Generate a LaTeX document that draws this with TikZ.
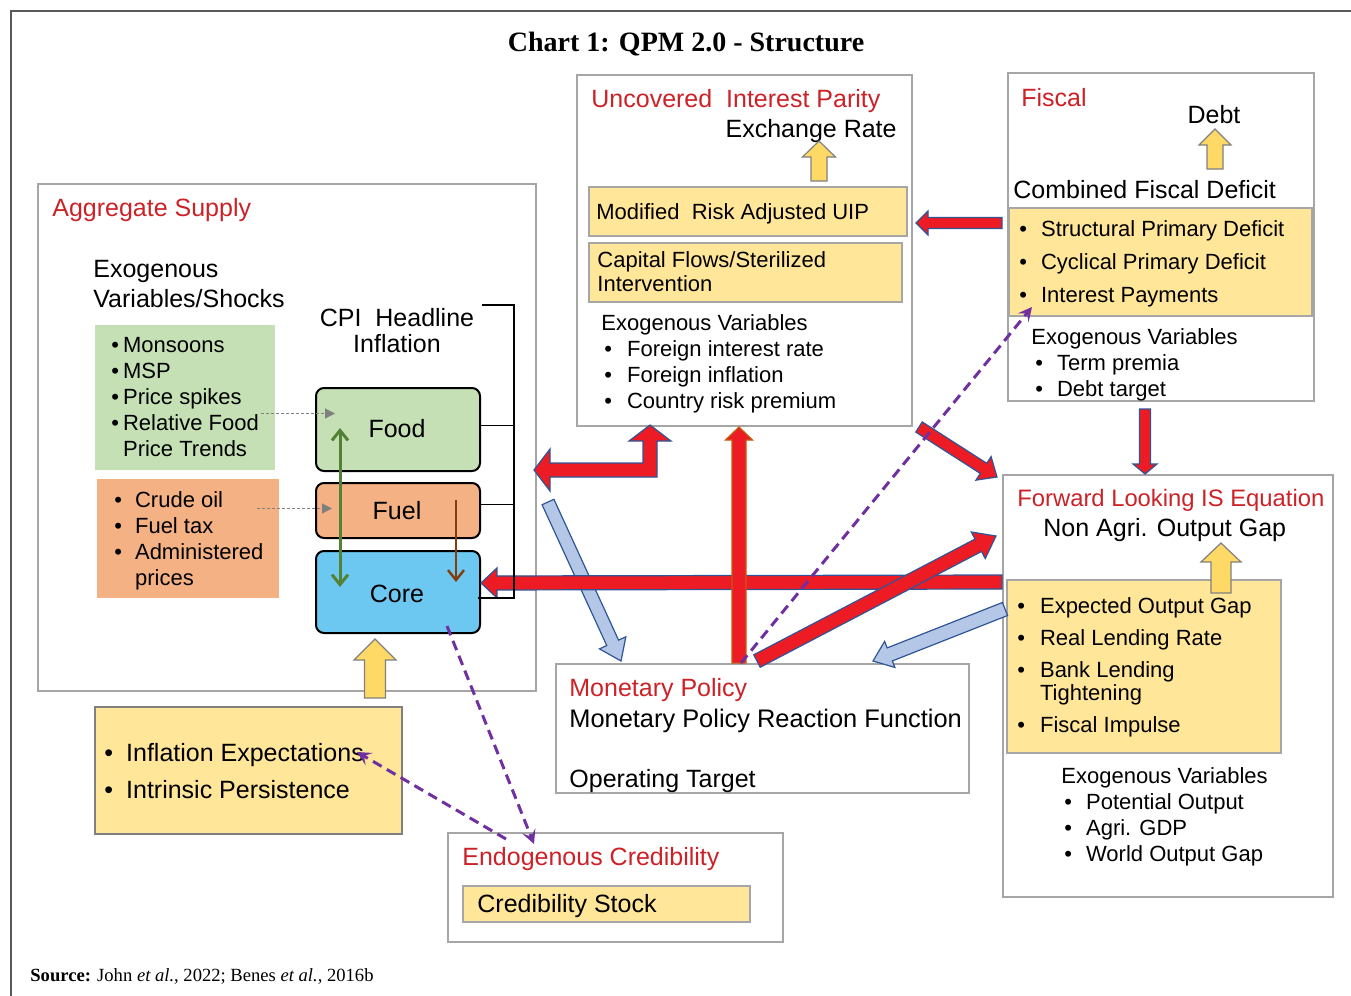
\documentclass[tikz,border=0pt]{standalone}
\usepackage{fontspec}
\setmainfont{Liberation Sans}
\newfontfamily\titlefont{Liberation Serif}
\usepackage{xcolor}
\usetikzlibrary{calc,fit,arrows.meta}

\definecolor{hdred}{RGB}{204,33,39}
\definecolor{boxgray}{RGB}{166,166,166}
\definecolor{paleyel}{RGB}{255,230,153}
\definecolor{foodgreen}{RGB}{197,224,180}
\definecolor{fuelorange}{RGB}{244,177,131}
\definecolor{coreblue}{RGB}{108,200,240}
\definecolor{arrred}{RGB}{237,28,36}
\definecolor{arrblue}{RGB}{47,85,151}
\definecolor{rustedge}{RGB}{197,90,17}
\definecolor{lightblue}{RGB}{180,199,231}
\definecolor{arryel}{RGB}{255,217,102}
\definecolor{mppurple}{RGB}{112,48,160}
\definecolor{darkgreen}{RGB}{84,130,53}
\definecolor{rustbrown}{RGB}{132,60,12}

\newcommand{\fsmall}{\fontsize{11}{13}\selectfont}
\newcommand{\flarge}{\fontsize{12.5}{15}\selectfont}

% block arrow: style, from, to, shaft half width, head half width, head length
\newcommand{\blockarrow}[6]{%
  \coordinate (bah) at ($(#3)!#6!(#2)$);
  \draw[#1] ($(#2)!#4!90:(#3)$) -- ($(bah)!#4!-90:(#2)$) -- ($(bah)!#5!-90:(#2)$) -- (#3)
    -- ($(bah)!#5!90:(#2)$) -- ($(bah)!#4!90:(#2)$) -- ($(#2)!#4!-90:(#3)$) -- cycle;
}

\tikzset{
  panel/.style={draw=boxgray, line width=1pt, inner sep=0pt},
  ylbox/.style={panel, fill=paleyel},
  cpibox/.style={draw=black, line width=1pt, rounded corners=4pt, inner sep=0pt},
  txt/.style={inner sep=0pt, anchor=base west, font=\fsmall},
  bigtxt/.style={txt, font=\flarge},
  hdtxt/.style={bigtxt, text=hdred},
  redarrow/.style={fill=arrred, draw=arrblue, line width=0.6pt},
  bluearrow/.style={fill=lightblue, draw=arrblue, line width=0.6pt},
  yelarrow/.style={fill=arryel, draw=gray, line width=0.6pt},
  credlink/.style={draw=mppurple, line width=1.5pt, dash pattern=on 5pt off 3pt,
    -{Stealth[length=7pt,width=7pt,inset=3pt]}},
  shocklink/.style={draw=gray, line width=0.6pt, dash pattern=on 1.5pt off 1pt,
    -{Triangle[length=5pt,width=5pt]}}
}

\begin{document}
\begin{tikzpicture}[x=0.5pt, y=-0.5pt]
\useasboundingbox (0,0) rectangle (1351,996);

% frame and title
\draw[line width=1pt, black!65] (11,996) -- (11,11) -- (1351,11);
\node[inner sep=0pt, anchor=base, font={\titlefont\bfseries\fontsize{14}{16}\selectfont}] (title) at (686,51) {Chart 1: QPM 2.0 - Structure};

% panels
\node[panel, fit={(38,184) (536,691)}] (supply) {};
\node[panel, fit={(577,75) (912,426)}] (uip) {};
\node[panel, fit={(1008,73) (1314,401)}] (fiscal) {};
\node[panel, fit={(1003,475) (1333,897)}] (fwdis) {};
\node[panel, fit={(556,664) (969,793)}] (monpol) {};
\node[panel, fit={(448,833) (783,942)}] (credib) {};

% inner boxes
\node[ylbox, fit={(589,187) (907,236)}] (riskuip) {};
\node[ylbox, fit={(589,243) (902,302)}] (capflow) {};
\node[ylbox, fit={(1009,208) (1312,316)}] (deficit) {};
\node[ylbox, fit={(1007,580) (1281,753)}] (gapdrv) {};
\node[ylbox, fit={(463,886) (750,922)}] (credstock) {};
\node[ylbox, draw=gray, fit={(95,707) (402,834)}] (expect) {};
\node[fill=foodgreen, inner sep=0pt, fit={(95,325) (275,470)}] (foodshk) {};
\node[fill=fuelorange, inner sep=0pt, fit={(97,479) (279,598)}] (fuelshk) {};
\node[cpibox, fill=foodgreen, fit={(316,388) (480,471)}] (food) {};
\node[cpibox, fill=fuelorange, fit={(316,483) (480,538)}] (fuel) {};
\node[cpibox, fill=coreblue, fit={(316,551) (480,633)}] (core) {};
\node[bigtxt, anchor=base] (foodlbl) at (397,437) {Food};
\node[bigtxt, anchor=base] (fuellbl) at (397,519) {Fuel};
\node[bigtxt, anchor=base] (corelbl) at (397,602) {Core};

% aggregate supply texts
\node[hdtxt] (astitle) at (52,216) {Aggregate Supply};
\node[bigtxt] (exoshk) at (93,277) {\begin{tabular}[t]{@{}l@{}}Exogenous\\Variables/Shocks\end{tabular}};
\node[txt] (foodlist) at (111,352) {\begin{tabular}[t]{@{}l@{\hspace{2pt}}l@{}}
  \textbullet & Monsoons\\ \textbullet & MSP\\ \textbullet & Price spikes\\
  \textbullet & Relative Food\\ & Price Trends\end{tabular}};
\node[txt] (fuellist) at (114,507) {\begin{tabular}[t]{@{}l@{\hspace{6.5pt}}l@{}}
  \textbullet & Crude oil\\ \textbullet & Fuel tax\\ \textbullet & Administered\\ & prices\end{tabular}};
\node[bigtxt, anchor=base, font=\fontsize{12.5}{13}\selectfont] (cpilbl) at (397,326) {\begin{tabular}[t]{@{}c@{}}CPI\ \ Headline\\Inflation\end{tabular}};
\node[bigtxt] (expectlist) at (104,761) {\begin{tabular}[t]{@{}l@{\hspace{6.5pt}}l@{}}
  \textbullet & Inflation Expectations\\[3.5pt] \textbullet & Intrinsic Persistence\end{tabular}};

% UIP texts
\node[hdtxt] (uiptitle) at (591,107) {Uncovered\ \ Interest Parity};
\node[bigtxt, anchor=base east] (xrate) at (897,137) {Exchange Rate};
\node[txt] (risklbl) at (596,219) {Modified\ \ Risk Adjusted UIP};
\node[txt, font=\fontsize{11}{12}\selectfont] (caplbl) at (597,267) {\begin{tabular}[t]{@{}l@{}}Capital Flows/Sterilized\\Intervention\end{tabular}};
\node[txt] (uipexo) at (601,330) {\begin{tabular}[t]{@{}l@{\hspace{7.5pt}}l@{}}
  \multicolumn{2}{@{}l@{}}{Exogenous Variables}\\
  \hspace{1.5pt}\textbullet & Foreign interest rate\\
  \hspace{1.5pt}\textbullet & Foreign inflation\\
  \hspace{1.5pt}\textbullet & Country risk premium\end{tabular}};

% fiscal texts
\node[hdtxt] (fistitle) at (1021,106) {Fiscal};
\node[bigtxt, anchor=base] (debt) at (1214,123) {Debt};
\node[bigtxt] (cfd) at (1013,198) {Combined Fiscal Deficit};
\node[txt] (deflist) at (1019,236) {\begin{tabular}[t]{@{}l@{\hspace{7pt}}l@{}}
  \textbullet & Structural Primary Deficit\\[3.5pt]
  \textbullet & Cyclical Primary Deficit\\[3.5pt]
  \textbullet & Interest Payments\end{tabular}};
\node[txt] (fisexo) at (1031,344) {\begin{tabular}[t]{@{}l@{\hspace{7pt}}l@{}}
  \multicolumn{2}{@{}l@{}}{Exogenous Variables}\\
  \hspace{2pt}\textbullet & Term premia\\
  \hspace{2pt}\textbullet & Debt target\end{tabular}};

% IS texts
\node[hdtxt, font=\fontsize{11.9}{14}\selectfont] (istitle) at (1017,506) {Forward Looking IS Equation};
\node[bigtxt] (nagap) at (1043,536) {Non Agri. Output Gap};
\node[txt, font=\fontsize{11}{11.5}\selectfont] (gaplist) at (1017,613) {\begin{tabular}[t]{@{}l@{\hspace{7.5pt}}l@{}}
  \textbullet & Expected Output Gap\\[4.5pt]
  \textbullet & Real Lending Rate\\[4.5pt]
  \textbullet & Bank Lending\\ & Tightening\\[4.5pt]
  \textbullet & Fiscal Impulse\end{tabular}};
\node[txt] (isexo) at (1061,783) {\begin{tabular}[t]{@{}l@{\hspace{7pt}}l@{}}
  \multicolumn{2}{@{}l@{}}{Exogenous Variables}\\
  \hspace{1.5pt}\textbullet & Potential Output\\
  \hspace{1.5pt}\textbullet & Agri. GDP\\
  \hspace{1.5pt}\textbullet & World Output Gap\end{tabular}};

% monetary policy and credibility texts
\node[hdtxt] (mptitle) at (569,696) {Monetary Policy};
\node[bigtxt, font=\fontsize{12.7}{15}\selectfont] (mprf) at (569,727) {Monetary Policy Reaction Function};
\node[bigtxt] (optgt) at (569,787) {Operating Target};
\node[hdtxt] (credtitle) at (462,865) {Endogenous Credibility};
\node[bigtxt] (stocklbl) at (477,912) {Credibility Stock};

% source
\node[txt, font={\titlefont\fontsize{9.3}{11}\selectfont}] (source) at (30,981) {\textbf{Source:} John \textit{et al.}, 2022; Benes \textit{et al.}, 2016b};

% end points
\coordinate (isL) at ($(fwdis.north west)+(0,108)$);
\coordinate (coreR) at ($(core.east)+(0,-9)$);
\coordinate (mpA) at ($(monpol.north west)+(184,0)$);
\coordinate (uipA) at ($(uip.south west)+(163,0)$);
\coordinate (mpB) at ($(monpol.north west)+(202,-2)$);
\coordinate (isA) at ($(fwdis.north west)+(-6,62)$);
\coordinate (uipB) at ($(uip.south east)+(6,0)$);
\coordinate (isB) at ($(fwdis.north west)+(-5,3)$);
\coordinate (defA) at ($(deficit.north west)+(-6,16)$);
\coordinate (riskA) at ($(riskuip.north east)+(8,37)$);
\coordinate (fisA) at ($(fiscal.south west)+(138,7)$);
\coordinate (isC) at ($(fwdis.north west)+(143,0)$);
\coordinate (supA) at ($(supply.north east)+(11,319)$);
\coordinate (mpC) at ($(monpol.north west)+(66,-2)$);
\coordinate (isD) at ($(fwdis.north west)+(3,135)$);
\coordinate (mpD) at ($(monpol.north west)+(318,-2)$);
\coordinate (expA) at ($(expect.north west)+(281,-8)$);
\coordinate (coreA) at ($(core.south west)+(60,5)$);
\coordinate (riskB) at ($(riskuip.north west)+(231,-5)$);
\coordinate (xrateA) at ($(uip.north west)+(243,67)$);
\coordinate (defB) at ($(deficit.north west)+(207,-38)$);
\coordinate (debtA) at ($(fiscal.north west)+(208,57)$);
\coordinate (gapA) at ($(gapdrv.north west)+(215,14)$);
\coordinate (nagA) at ($(fwdis.north west)+(219,69)$);
\coordinate (uipC) at ($(uip.south west)+(74,-2)$);
\coordinate (supB) at ($(supply.north east)+(-3,287)$);

% block arrows
\blockarrow{bluearrow}{supA}{mpC}{3.25pt}{7.25pt}{10pt}
\blockarrow{bluearrow}{isD}{mpD}{3.5pt}{7pt}{9pt}
\blockarrow{redarrow}{isL}{coreR}{3.5pt}{7.5pt}{8pt}
\blockarrow{redarrow, draw=rustedge}{mpA}{uipA}{3.5pt}{6.75pt}{6.5pt}
\blockarrow{redarrow}{mpB}{isA}{3.5pt}{7.5pt}{10pt}
\blockarrow{redarrow}{uipB}{isB}{3pt}{7pt}{8pt}
\blockarrow{redarrow}{defA}{riskA}{2.75pt}{6pt}{6pt}
\blockarrow{redarrow}{fisA}{isC}{2.75pt}{6pt}{5pt}
\draw[redarrow] (uipC) -- ++(21,16) -- ++(-14,0) |- ($(supB)+(16,7)$) -- ++(0,14) -- (supB)
  -- ++(16,-21) -- ++(0,14) -| ($(uipC)+(-7,16)$) -- ++(-14,0) -- cycle;
\blockarrow{yelarrow}{expA}{coreA}{5.25pt}{10.5pt}{10.5pt}
\blockarrow{yelarrow}{riskB}{xrateA}{4pt}{8.25pt}{8pt}
\blockarrow{yelarrow}{defB}{debtA}{4pt}{8pt}{8pt}
\blockarrow{yelarrow}{gapA}{nagA}{5pt}{10pt}{9.5pt}

% CPI bracket and inner links
\draw[line width=0.6pt] (482,305) -| (514,598) -- (478,598);
\draw[line width=0.6pt] ($(food.east)+(0,-4)$) -- ++(34,0);
\draw[line width=0.6pt] ($(fuel.east)+(0,-6)$) -- ++(32,0);
\draw[shocklink] ($(foodshk.east)+(-14,16)$) -- ($(food.west)+(20,-16)$);
\draw[shocklink] ($(fuelshk.east)+(-22,-30)$) -- ($(fuel.west)+(17,-2)$);
\draw[darkgreen, line width=1.5pt, {Straight Barb[length=5pt,width=8pt]}-{Straight Barb[length=5pt,width=8pt]}]
  ($(food.south west)+(25,-44)$) -- ($(core.north west)+(25,37)$);
\draw[rustbrown, line width=1.2pt, -{Straight Barb[length=5pt,width=8pt]}]
  ($(fuel.north west)+(141,18)$) -- ($(core.north west)+(141,32)$);

% credibility links
\draw[credlink] ($(core.south east)+(-34,-8)$) -- ($(credib.north west)+(87,12)$);
\draw[credlink] ($(credib.north west)+(59,7)$) -- ($(expect.north west)+(263,46)$);
\draw[credlink] ($(monpol.north west)+(186,0)$) -- ($(deficit.south west)+(24,-10)$);
\end{tikzpicture}
\end{document}
